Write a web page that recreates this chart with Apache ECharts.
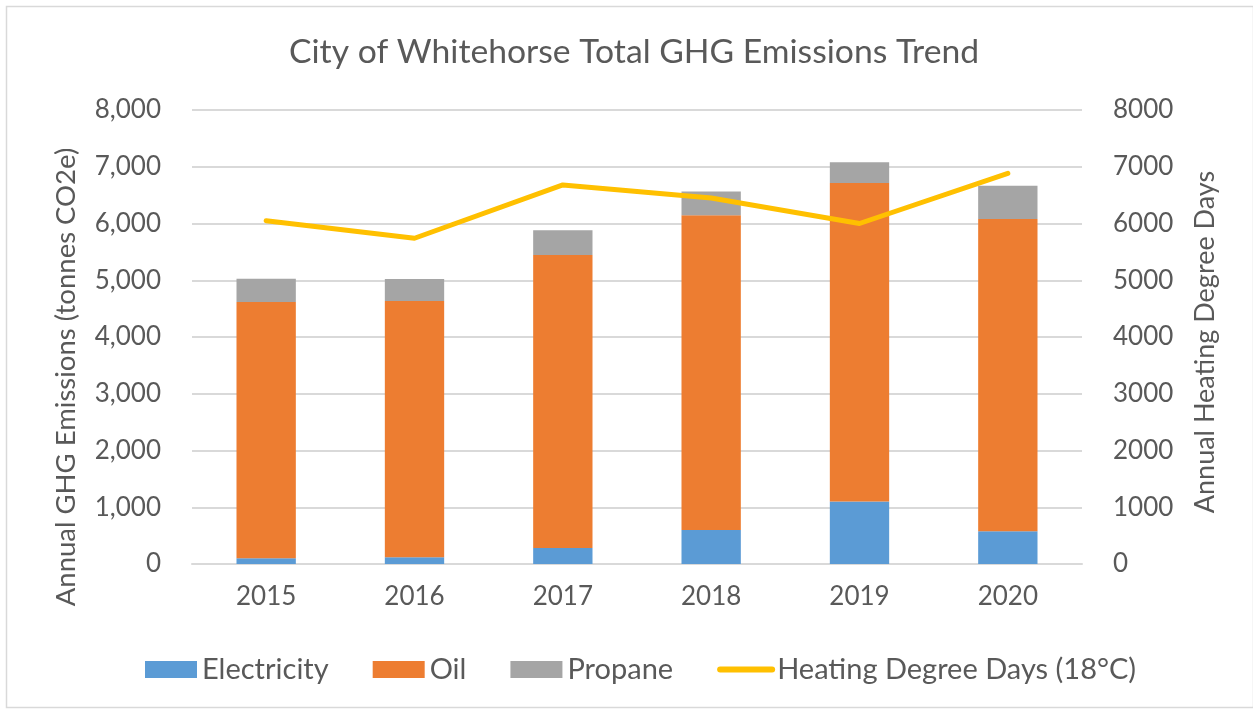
<!DOCTYPE html>
<html>
<head>
<meta charset="utf-8">
<script src="https://cdn.jsdelivr.net/npm/echarts@6/dist/echarts.min.js"></script>
<style>
  html, body { margin: 0; padding: 0; background: #fff; }
  #chart { width: 1253px; height: 709px; }
</style>
</head>
<body>
<div id="chart"></div>
<script>
// values
const years = ['2015', '2016', '2017', '2018', '2019', '2020'];
const electricity = [100, 120, 280, 600, 1100, 575];
const oil = [4515, 4515, 5165, 5545, 5615, 5505];
const propane = [410, 385, 435, 420, 365, 585];
const heatingDegreeDays = [6050, 5740, 6680, 6450, 6000, 6885];

const textColor = '#595959';
const gridColor = '#d9d9d9';
const fontFamily = 'Lato, "Open Sans", sans-serif';

var myChart = echarts.init(document.getElementById('chart'));

var option = {
    animation: false,
    backgroundColor: '#fff',
    textStyle: { fontFamily: fontFamily, color: textColor },
    title: {
        text: 'City of Whitehorse Total GHG Emissions Trend',
        left: 284,
        top: 30,
        textStyle: { fontFamily: fontFamily, fontSize: 33.7, fontWeight: 'normal', color: textColor }
    },
    graphic: [{
        type: 'rect',
        left: 4,
        top: 4,
        shape: { width: 1247, height: 701 },
        style: { fill: 'none', stroke: gridColor, lineWidth: 1.5 },
        silent: true
    }],
    legend: {
        bottom: 20,
        left: 140,
        itemWidth: 52,
        itemHeight: 17,
        itemGap: 44,
        textStyle: { fontFamily: fontFamily, fontSize: 29, color: textColor },
        data: [
            { name: 'Electricity', icon: 'rect' },
            { name: 'Oil', icon: 'rect' },
            { name: 'Propane', icon: 'rect' },
            {
                name: 'Heating Degree Days (18°C)',
                icon: 'inherit',
                itemStyle: { opacity: 0 },
                lineStyle: { color: '#ffc000', width: 6, cap: 'round' }
            }
        ]
    },
    grid: {
        left: 192,
        right: 171,
        top: 110,
        bottom: 145,
        containLabel: false
    },
    xAxis: {
        type: 'category',
        data: years,
        axisLine: { lineStyle: { color: gridColor, width: 2 } },
        axisTick: { show: false },
        axisLabel: { fontFamily: fontFamily, fontSize: 26, color: textColor, margin: 20 }
    },
    yAxis: [{
        type: 'value',
        min: 0,
        max: 8000,
        interval: 1000,
        name: 'Annual GHG Emissions (tonnes CO2e)',
        nameLocation: 'middle',
        nameGap: 112,
        nameTextStyle: { fontFamily: fontFamily, fontSize: 27.5, color: textColor, padding: [0, 80, 0, 0] },
        axisLine: { show: false },
        axisTick: { show: false },
        splitLine: { lineStyle: { color: gridColor, width: 2 } },
        axisLabel: {
            fontFamily: fontFamily, fontSize: 26, color: textColor, margin: 31,
            formatter: function (v) { return v.toLocaleString('en-US'); }
        }
    }, {
        type: 'value',
        min: 0,
        max: 8000,
        interval: 1000,
        name: 'Annual Heating Degree Days',
        nameLocation: 'middle',
        nameGap: 110,
        nameTextStyle: { fontFamily: fontFamily, fontSize: 27, color: textColor, padding: [0, 10, 0, 0] },
        axisLine: { show: false },
        axisTick: { show: false },
        splitLine: { show: false },
        axisLabel: {
            fontFamily: fontFamily, fontSize: 26, color: textColor, margin: 31,
            formatter: function (v) { return String(v); }
        }
    }],
    series: [{
        name: 'Electricity',
        type: 'bar',
        stack: 'ghg',
        barWidth: '40%',
        data: electricity,
        itemStyle: { color: '#5b9bd5' }
    }, {
        name: 'Oil',
        type: 'bar',
        stack: 'ghg',
        data: oil,
        itemStyle: { color: '#ed7d31' }
    }, {
        name: 'Propane',
        type: 'bar',
        stack: 'ghg',
        data: propane,
        itemStyle: { color: '#a5a5a5' }
    }, {
        name: 'Heating Degree Days (18°C)',
        type: 'line',
        yAxisIndex: 1,
        data: heatingDegreeDays,
        symbol: 'none',
        showSymbol: false,
        lineStyle: { color: '#ffc000', width: 5, cap: 'round', join: 'round' },
        itemStyle: { color: '#ffc000' }
    }]
};
myChart.setOption(option);
</script>
</body>
</html>
